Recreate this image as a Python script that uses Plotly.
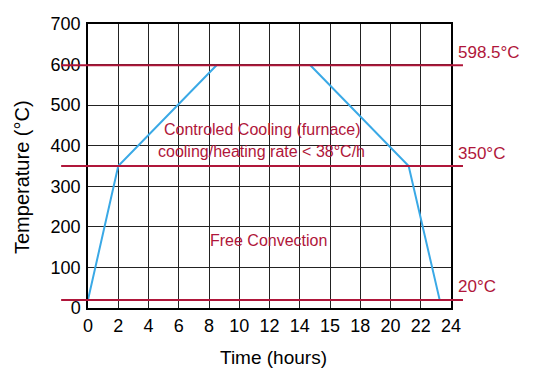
import plotly.graph_objects as go

# Data
heating_time = [0, 2, 8.5]
heating_temp = [20, 350, 598.5]
cooling_time = [14.7, 21.2, 23.25]
cooling_temp = [598.5, 350, 20]

ref_temps = [598.5, 350, 20]
ref_labels = ["598.5°C", "350°C", "20°C"]

x_tickvals = list(range(0, 25, 2))
x_ticktext = ["0", "2", "4", "6", "8", "10", "12", "14", "15", "18", "20", "22", "24"]
y_tickvals = list(range(0, 701, 100))

RED = "#b0163a"
BLUE = "#3aa9e6"
REG = "Liberation Sans, Arial, Helvetica, sans-serif"

fig = go.Figure()
fig.add_trace(go.Scatter(x=heating_time, y=heating_temp, mode="lines",
                         line=dict(color=BLUE, width=2), showlegend=False))
fig.add_trace(go.Scatter(x=cooling_time, y=cooling_temp, mode="lines",
                         line=dict(color=BLUE, width=2), showlegend=False))

for t, lab in zip(ref_temps, ref_labels):
    fig.add_shape(type="line", xref="paper", yref="y", x0=-0.074, x1=1.033,
                  y0=t, y1=t, line=dict(color=RED, width=2), layer="above")
    fig.add_annotation(xref="paper", yref="y", x=1.013, y=t, text=lab,
                       showarrow=False, xanchor="left", yanchor="middle", yshift=13,
                       font=dict(family=REG, size=17, color=RED))

fig.add_annotation(xref="x", yref="y", x=11.55, y=440, text="Controled Cooling (furnace)",
                   showarrow=False, font=dict(family=REG, size=16, color=RED))
fig.add_annotation(xref="x", yref="y", x=11.5, y=385, text="cooling/heating rate &lt; 38°C/h",
                   showarrow=False, font=dict(family=REG, size=16, color=RED))
fig.add_annotation(xref="x", yref="y", x=11.95, y=167, text="Free Convection",
                   showarrow=False, font=dict(family=REG, size=16, color=RED))

fig.add_annotation(xref="paper", yref="paper", x=0.51, y=-0.175, text="Time (hours)",
                   showarrow=False, xanchor="center", yanchor="middle",
                   font=dict(family=REG, size=19, color="black"))
fig.add_annotation(xref="paper", yref="paper", x=-0.18, y=0.46, text="Temperature (°C)",
                   showarrow=False, textangle=-90, xanchor="center", yanchor="middle",
                   font=dict(family=REG, size=20, color="black"))

fig.update_xaxes(range=[0, 24], tickvals=x_tickvals, ticktext=x_ticktext,
                 showgrid=True, gridcolor="#222", gridwidth=1,
                 showline=True, linecolor="black", linewidth=1.5, mirror=True,
                 zeroline=False, ticks="", ticklabelstandoff=1,
                 tickfont=dict(family=REG, size=18, color="black"))
fig.update_yaxes(range=[0, 700], tickvals=y_tickvals,
                 showgrid=True, gridcolor="#222", gridwidth=1,
                 showline=True, linecolor="black", linewidth=1.5, mirror=True,
                 zeroline=False, ticks="", ticklabelstandoff=2,
                 tickfont=dict(family=REG, size=18, color="black"))

fig.update_layout(width=535, height=368, margin=dict(l=88, r=84, t=24, b=60),
                  plot_bgcolor="white", paper_bgcolor="white")

fig.write_html("out.html")
